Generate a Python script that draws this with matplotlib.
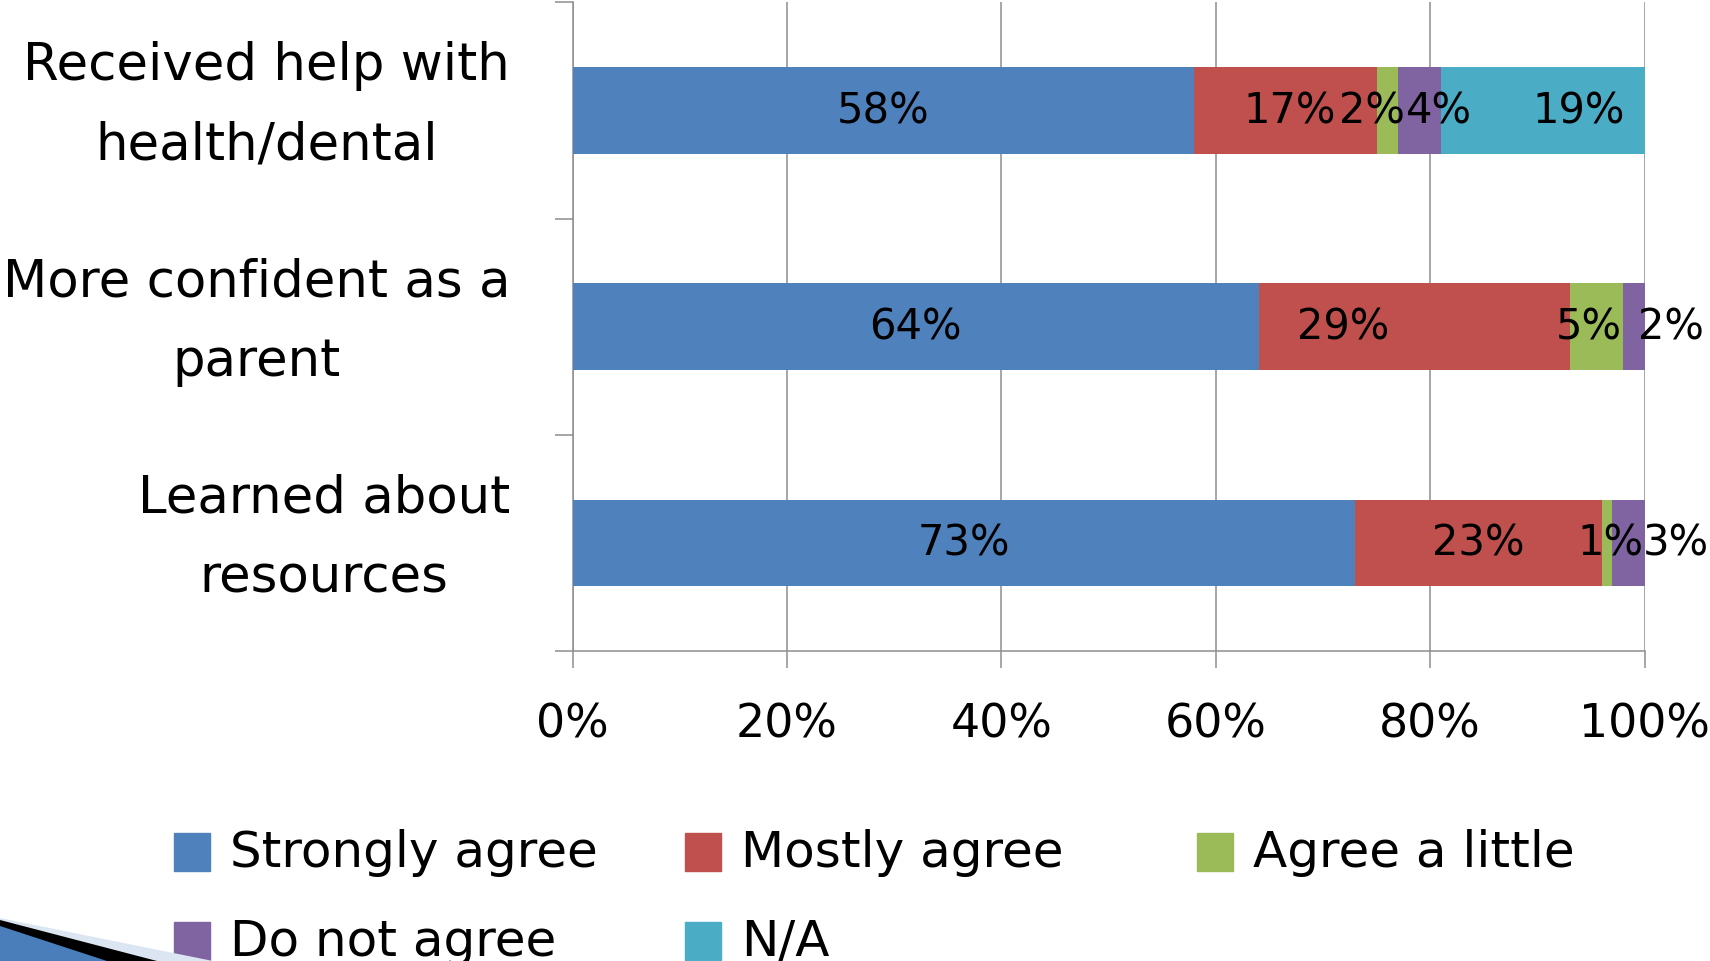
import matplotlib
matplotlib.use('Agg')
import matplotlib.pyplot as plt
from matplotlib.patches import Rectangle, Polygon

# data
categories = ['Received help with\nhealth/dental', 'More confident as a\nparent', 'Learned about\nresources']
series = ['Strongly agree', 'Mostly agree', 'Agree a little', 'Do not agree', 'N/A']
strongly = [58, 64, 73]
mostly = [17, 29, 23]
little = [2, 5, 1]
notagree = [4, 2, 3]
na = [19, 0, 0]
xticks = [0, 20, 40, 60, 80, 100]
xticklabels = ['0%', '20%', '40%', '60%', '80%', '100%']

colors = ['#4F81BD', '#C0504D', '#9BBB59', '#8064A2', '#4BACC6']
# label nudges (in % units) so small labels don't sit on top of each other
label_dx = [[0, 0.4, -1.4, 1.8, 3.3],
            [0, -6.6, -0.7, 3.5, 0],
            [0, 0, 0.3, 4.4, 0]]

W, H = 1710, 962
fig = plt.figure(figsize=(W / 100, H / 100), dpi=100)
plt.rcParams['font.family'] = ['DejaVu Sans']

def fx(px):
    return px / W

def fy(py):
    return 1 - py / H

ax = fig.add_axes([fx(572.6), fy(652), fx(1644.6) - fx(572.6), fy(3.3) - fy(652)])

grid_c = '#8E8E8E'
ypos = list(range(len(categories)))
values = [strongly, mostly, little, notagree, na]
left = [0] * len(categories)
for s, vals in enumerate(values):
    ax.barh(ypos, vals, left=left, height=0.4, color=colors[s], label=series[s], zorder=3)
    for i, v in enumerate(vals):
        if v > 0:
            ax.text(left[i] + v / 2 + label_dx[i][s], ypos[i], '%d%%' % v,
                    ha='center', va='center', fontsize=30, color='black', zorder=4)
    left = [l + v for l, v in zip(left, vals)]

ax.set_xlim(0, 100)
ax.set_ylim(len(categories) - 0.5, -0.5)
ax.set_xticks(xticks)
ax.set_xticklabels(xticklabels, fontsize=33)

# category labels: centred two-line blocks, sitting a bit above the bar centre
ax.set_yticks(ypos)
ax.set_yticklabels([])
for i, cat in enumerate(categories):
    ax.annotate(cat, xy=(0, ypos[i]), xycoords=('axes fraction', 'data'),
                xytext=(-45, 4), textcoords='offset points',
                ha='right', va='center', fontsize=37, multialignment='center',
                linespacing=1.75, annotation_clip=False)

ax.set_yticks([-0.5, 0.5, 1.5, 2.5], minor=True)
ax.tick_params(axis='y', which='major', length=0)
ax.tick_params(axis='y', which='minor', length=13.3, width=1.1, color=grid_c, direction='out')
ax.tick_params(axis='x', length=12, width=1.1, color=grid_c, direction='out', pad=24)
ax.xaxis.grid(True, color=grid_c, linewidth=1.1, zorder=0)
ax.set_axisbelow(True)
for sp in ['top', 'right']:
    ax.spines[sp].set_visible(False)
for sp in ['left', 'bottom']:
    ax.spines[sp].set_color(grid_c)
    ax.spines[sp].set_linewidth(1.1)

# legend, equal-width columns like the original
col_x = [174, 685, 1197]
row_y = [834, 923]
for k, name in enumerate(series):
    c, r = k % 3, k // 3
    fig.add_artist(Rectangle((fx(col_x[c]), fy(row_y[r] + 38)), fx(36), 38 / H,
                             transform=fig.transFigure, color=colors[k]))
    fig.text(fx(col_x[c] + 56), fy(row_y[r] + 33), name, fontsize=36,
             ha='left', va='baseline')

# slide decoration in the bottom-left corner
fig.add_artist(Polygon([(fx(0), fy(919)), (fx(213), fy(962)), (fx(0), fy(962))],
                       closed=True, transform=fig.transFigure, color='#DCE6F2', lw=0))
fig.add_artist(Polygon([(fx(0), fy(921)), (fx(157), fy(962)), (fx(0), fy(962))],
                       closed=True, transform=fig.transFigure, color='black', lw=0))
fig.add_artist(Polygon([(fx(0), fy(927)), (fx(107), fy(962)), (fx(0), fy(962))],
                       closed=True, transform=fig.transFigure, color='#4A7EBB', lw=0))

fig.savefig('out.png', dpi=100)
